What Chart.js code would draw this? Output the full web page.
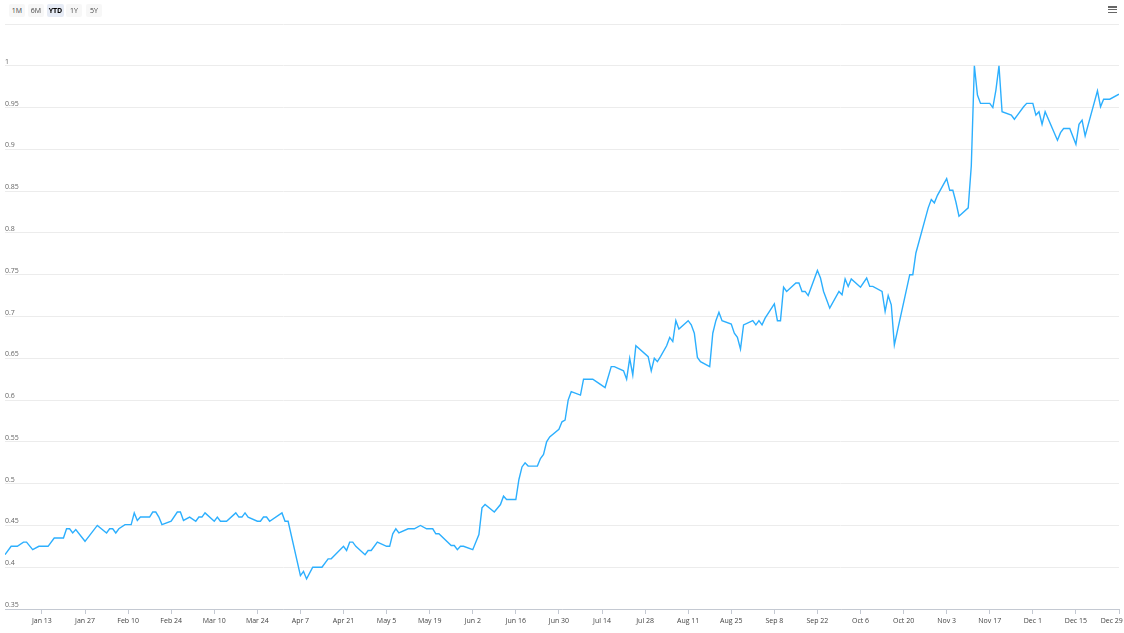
<!DOCTYPE html>
<html>
<head>
<meta charset="utf-8">
<script src="https://cdn.jsdelivr.net/npm/chart.js@4.4.1/dist/chart.umd.min.js"></script>
<style>
html,body{margin:0;padding:0;background:#fff;width:1124px;height:633px;overflow:hidden;font-family:'Open Sans',sans-serif}
#wrap{position:relative;width:1124px;height:633px}
#c{position:absolute;left:0;top:0}
.btn{position:absolute;top:4px;width:16px;height:13px;line-height:13px;font-size:7px;color:#444;background:#f7f7f7;text-align:center;border-radius:2px}
.btn.sel{background:#e6ebf5;font-weight:bold;color:#000;width:17px}
.menu{position:absolute;left:1108px;top:6px;width:9px}
.menu span{display:block;height:1.5px;background:#666;margin-bottom:1.4px}
</style>
</head>
<body>
<div id="wrap">
<canvas id="c" width="1124" height="633"></canvas>
<div class="btn" style="left:9px">1M</div>
<div class="btn" style="left:28px">6M</div>
<div class="btn sel" style="left:47px">YTD</div>
<div class="btn" style="left:66px">1Y</div>
<div class="btn" style="left:86px">5Y</div>
<div class="menu"><span></span><span></span><span></span></div>
</div>
<script>
const dates = [
'2025-01-01','2025-01-03','2025-01-05','2025-01-07','2025-01-08','2025-01-10','2025-01-12','2025-01-15','2025-01-17','2025-01-20',
'2025-01-21','2025-01-22','2025-01-23','2025-01-24','2025-01-27','2025-01-31','2025-02-03','2025-02-04','2025-02-05','2025-02-06',
'2025-02-07','2025-02-09','2025-02-11','2025-02-12','2025-02-13','2025-02-14','2025-02-17','2025-02-18','2025-02-19','2025-02-20',
'2025-02-21','2025-02-24','2025-02-26','2025-02-27','2025-02-28','2025-03-02','2025-03-04','2025-03-05','2025-03-06','2025-03-07',
'2025-03-10','2025-03-11','2025-03-12','2025-03-14','2025-03-17','2025-03-18','2025-03-19','2025-03-20','2025-03-21','2025-03-24',
'2025-03-25','2025-03-26','2025-03-27','2025-03-28','2025-04-01','2025-04-02','2025-04-03','2025-04-07','2025-04-08','2025-04-09',
'2025-04-11','2025-04-14','2025-04-16','2025-04-17','2025-04-21','2025-04-22','2025-04-23','2025-04-24','2025-04-25','2025-04-28',
'2025-04-29','2025-04-30','2025-05-02','2025-05-05','2025-05-06','2025-05-07','2025-05-08','2025-05-09','2025-05-12','2025-05-14',
'2025-05-16','2025-05-18','2025-05-20','2025-05-21','2025-05-22','2025-05-26','2025-05-27','2025-05-28','2025-05-29','2025-05-30',
'2025-06-02','2025-06-04','2025-06-05','2025-06-06','2025-06-09','2025-06-11','2025-06-12','2025-06-13','2025-06-16','2025-06-17',
'2025-06-18','2025-06-19','2025-06-20','2025-06-23','2025-06-24','2025-06-25','2025-06-26','2025-06-27','2025-06-30','2025-07-01',
'2025-07-02','2025-07-03','2025-07-04','2025-07-07','2025-07-08','2025-07-11','2025-07-13','2025-07-15','2025-07-17','2025-07-18',
'2025-07-21','2025-07-22','2025-07-23','2025-07-24','2025-07-25','2025-07-29','2025-07-30','2025-07-31','2025-08-01','2025-08-02',
'2025-08-04','2025-08-05','2025-08-06','2025-08-07','2025-08-08','2025-08-11','2025-08-12','2025-08-13','2025-08-14','2025-08-15',
'2025-08-18','2025-08-19','2025-08-20','2025-08-21','2025-08-22','2025-08-25','2025-08-26','2025-08-27','2025-08-28','2025-08-29',
'2025-09-01','2025-09-02','2025-09-03','2025-09-04','2025-09-05','2025-09-08','2025-09-09','2025-09-10','2025-09-11','2025-09-12',
'2025-09-15','2025-09-16','2025-09-17','2025-09-18','2025-09-19','2025-09-22','2025-09-23','2025-09-24','2025-09-25','2025-09-26',
'2025-09-29','2025-09-30','2025-10-01','2025-10-02','2025-10-03','2025-10-06','2025-10-08','2025-10-09','2025-10-10','2025-10-13',
'2025-10-14','2025-10-15','2025-10-16','2025-10-17','2025-10-22','2025-10-23','2025-10-24','2025-10-28','2025-10-29','2025-10-30',
'2025-10-31','2025-11-03','2025-11-04','2025-11-05','2025-11-06','2025-11-07','2025-11-10','2025-11-11','2025-11-12','2025-11-13',
'2025-11-14','2025-11-17','2025-11-18','2025-11-19','2025-11-20','2025-11-21','2025-11-24','2025-11-25','2025-11-26','2025-11-28',
'2025-11-29','2025-12-01','2025-12-02','2025-12-03','2025-12-04','2025-12-05','2025-12-09','2025-12-10','2025-12-11','2025-12-13',
'2025-12-15','2025-12-16','2025-12-17','2025-12-18','2025-12-22','2025-12-23','2025-12-24','2025-12-26','2025-12-29'
];
const values = [
0.415,0.425,0.425,0.43,0.43,0.421,0.425,0.425,0.435,0.435,
0.446,0.446,0.441,0.445,0.431,0.45,0.441,0.446,0.446,0.441,
0.446,0.451,0.451,0.465,0.456,0.46,0.46,0.466,0.466,0.46,
0.451,0.455,0.466,0.466,0.456,0.46,0.455,0.46,0.46,0.465,
0.455,0.46,0.455,0.455,0.465,0.46,0.46,0.465,0.46,0.455,
0.455,0.46,0.46,0.455,0.465,0.455,0.455,0.39,0.395,0.386,
0.4,0.4,0.41,0.41,0.425,0.42,0.43,0.43,0.425,0.415,
0.42,0.42,0.43,0.425,0.425,0.44,0.446,0.441,0.446,0.446,
0.45,0.446,0.446,0.44,0.44,0.426,0.426,0.421,0.425,0.425,
0.421,0.439,0.471,0.475,0.466,0.475,0.485,0.481,0.481,0.505,
0.52,0.525,0.521,0.521,0.53,0.535,0.55,0.556,0.565,0.574,
0.576,0.6,0.61,0.606,0.625,0.625,0.62,0.615,0.64,0.64,
0.635,0.625,0.65,0.63,0.665,0.652,0.635,0.65,0.646,0.652,
0.665,0.675,0.67,0.695,0.685,0.695,0.69,0.68,0.651,0.646,
0.64,0.68,0.695,0.705,0.695,0.691,0.68,0.675,0.661,0.69,
0.695,0.69,0.695,0.69,0.698,0.715,0.695,0.695,0.735,0.73,
0.74,0.74,0.73,0.73,0.725,0.755,0.746,0.73,0.72,0.71,
0.73,0.726,0.745,0.736,0.745,0.735,0.746,0.736,0.736,0.73,
0.706,0.725,0.714,0.666,0.75,0.75,0.776,0.83,0.84,0.836,
0.845,0.865,0.851,0.851,0.837,0.82,0.83,0.88,1.0,0.965,
0.955,0.955,0.95,0.971,1.0,0.945,0.941,0.936,0.941,0.951,
0.955,0.955,0.941,0.945,0.93,0.945,0.911,0.92,0.925,0.925,
0.906,0.93,0.935,0.916,0.97,0.951,0.96,0.96,0.966
];
const tickDates = ['2025-01-13','2025-01-27','2025-02-10','2025-02-24','2025-03-10','2025-03-24','2025-04-07','2025-04-21',
'2025-05-05','2025-05-19','2025-06-02','2025-06-16','2025-06-30','2025-07-14','2025-07-28','2025-08-11','2025-08-25',
'2025-09-08','2025-09-22','2025-10-06','2025-10-20','2025-11-03','2025-11-17','2025-12-01','2025-12-15','2025-12-29'];
const tickLabels = ['Jan 13','Jan 27','Feb 10','Feb 24','Mar 10','Mar 24','Apr 7','Apr 21','May 5','May 19','Jun 2','Jun 16',
'Jun 30','Jul 14','Jul 28','Aug 11','Aug 25','Sep 8','Sep 22','Oct 6','Oct 20','Nov 3','Nov 17','Dec 1','Dec 15','Dec 29'];
const yTicks = [0.35,0.4,0.45,0.5,0.55,0.6,0.65,0.7,0.75,0.8,0.85,0.9,0.95,1,1.05];

function doy(s){
  const p = s.split('-').map(Number);
  return (Date.UTC(p[0],p[1]-1,p[2]) - Date.UTC(p[0],0,1)) / 864e5 + 1;
}
const points = dates.map((d,i)=>({x: doy(d), y: values[i]}));
const tickDays = tickDates.map(doy);

Chart.defaults.font.family = "'Open Sans', sans-serif";

new Chart(document.getElementById('c'), {
  type: 'line',
  data: { datasets: [{
    data: points,
    borderColor: '#2caffe',
    borderWidth: 1.4,
    pointRadius: 0,
    tension: 0,
    fill: false
  }]},
  options: {
    responsive: false,
    animation: false,
    layout: { padding: { left: 5, right: 5, top: 24, bottom: 5 } },
    plugins: { legend: { display: false }, tooltip: { enabled: false } },
    scales: {
      x: {
        type: 'linear',
        min: doy(dates[0]),
        max: doy(dates[dates.length-1]),
        afterBuildTicks: s => { s.ticks = tickDays.map(v => ({ value: v })); },
        afterFit: s => { s.paddingLeft = 0; s.paddingRight = 0; s.height = 19; },
        ticks: {
          autoSkip: false, maxRotation: 0, minRotation: 0,
          padding: 3,
          color: '#444',
          font: { size: 7 },
          callback: (v, i) => tickLabels[i] + (i === tickLabels.length - 1 ? '        ' : '')
        },
        grid: { drawOnChartArea: false, drawTicks: true, tickLength: 5, color: '#c4c9d2' },
        border: { display: true, color: '#c4c9d2' }
      },
      y: {
        min: 0.35, max: 1.05,
        afterBuildTicks: s => { s.ticks = yTicks.map(v => ({ value: v })); },
        ticks: {
          mirror: true, padding: 0, labelOffset: -4,
          color: '#666',
          font: { size: 7 },
          callback: v => v > 1.04 ? '' : String(+v.toFixed(2))
        },
        grid: { color: '#ececec', drawTicks: false },
        border: { display: false }
      }
    }
  }
});
</script>
</body>
</html>
